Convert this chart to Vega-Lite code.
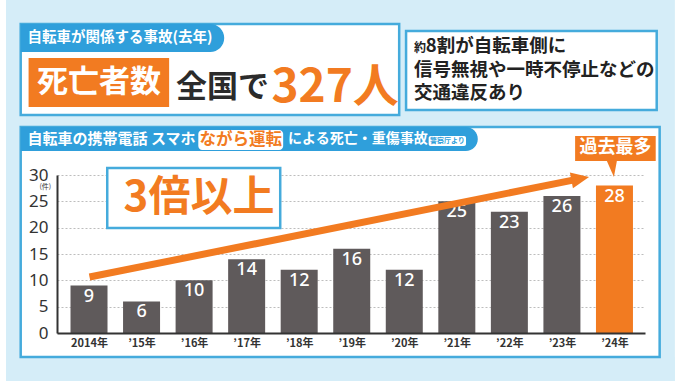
{
  "$schema": "https://vega.github.io/schema/vega-lite/v6.json",
  "width": 588,
  "height": 158,
  "autosize": {"type": "none"},
  "padding": {"left": 57, "top": 175, "right": 35, "bottom": 48},
  "background": "white",
  "resolve": {"axis": {"x": "independent", "y": "independent"}},
  "config": {
    "font": "Noto Sans CJK JP",
    "view": {"stroke": null},
    "axisY": {"labelOverlap": false, "domainColor": "#333333", "domainWidth": 2, "ticks": false,
              "labelFontSize": 17, "labelColor": "#333333", "labelPadding": 9, "labelFont": "Noto Sans",
              "grid": true, "gridColor": "#bdbdbd", "gridDash": [2, 2]},
    "axisX": {"labelOverlap": false, "domainColor": "#333333", "domainWidth": 2, "ticks": false, "grid": false,
              "labelFontSize": 11, "labelFontWeight": "bold", "labelColor": "#333333", "labelPadding": 4}
  },
  "datasets": {
    "accidents": [
      {"year": 2014, "count": 9},
      {"year": 2015, "count": 6},
      {"year": 2016, "count": 10},
      {"year": 2017, "count": 14},
      {"year": 2018, "count": 12},
      {"year": 2019, "count": 16},
      {"year": 2020, "count": 12},
      {"year": 2021, "count": 25},
      {"year": 2022, "count": 23},
      {"year": 2023, "count": 26},
      {"year": 2024, "count": 28}
    ]
  },
  "layer": [
    {
      "data": {"name": "accidents"},
      "mark": {"type": "bar", "width": 37},
      "encoding": {
        "x": {"field": "year", "type": "quantitative",
              "scale": {"domain": [2013.486, 2024.486], "nice": false, "zero": false},
              "axis": {"title": null, "values": [2014,2015,2016,2017,2018,2019,2020,2021,2022,2023,2024],
                       "labelExpr": "datum.value == 2014 ? '2014年' : '’' + slice(toString(datum.value), 2) + '年'",
                       "zindex": 1, "orient": "bottom"}},
        "y": {"field": "count", "type": "quantitative",
              "scale": {"domain": [0, 30], "nice": false},
              "axis": {"title": null, "values": [0,5,10,15,20,25,30], "zindex": 0, "orient": "left"}},
        "color": {"condition": {"test": "datum.year === 2024", "value": "#f27b21"}, "value": "#5f5a5b"}
      }
    },
    {
      "data": {"name": "accidents"},
      "mark": {"type": "text", "color": "white", "fontSize": 18, "fontWeight": 500, "baseline": "middle", "dy": 11, "font": "Noto Sans"},
      "encoding": {
        "x": {"field": "year", "type": "quantitative", "axis": null},
        "y": {"field": "count", "type": "quantitative", "axis": null},
        "text": {"field": "count", "type": "quantitative"}
      }
    },
    {
      "data": {"values": [{}]},
      "mark": {"type": "rect", "color": "#d5edf8"},
      "encoding": {"x": {"datum": 2012.42, "axis": null}, "x2": {"datum": 2025.15}, "y": {"datum": 39.11, "axis": null}, "y2": {"datum": 64}}
    },
    {
      "data": {"values": [{}]},
      "mark": {"type": "rect", "color": "#d5edf8"},
      "encoding": {"x": {"datum": 2012.42, "axis": null}, "x2": {"datum": 2012.70}, "y": {"datum": -9.2, "axis": null}, "y2": {"datum": 39.11}}
    },
    {
      "data": {"values": [{}]},
      "mark": {"type": "rect", "color": "#d5edf8"},
      "encoding": {"x": {"datum": 2024.86, "axis": null}, "x2": {"datum": 2025.15}, "y": {"datum": -9.2, "axis": null}, "y2": {"datum": 39.11}}
    },
    {
      "data": {"values": [{}]},
      "mark": {"type": "rect", "color": "#d5edf8"},
      "encoding": {"x": {"datum": 2012.42, "axis": null}, "x2": {"datum": 2025.15}, "y": {"datum": -9.2, "axis": null}, "y2": {"datum": -4.557}}
    },
    {
      "data": {"values": [{}]},
      "mark": {"type": "rect", "fill": "white", "fillOpacity": 0, "stroke": "#45abdc", "strokeWidth": 2.5},
      "encoding": {"x": {"datum": 2012.70, "axis": null}, "x2": {"datum": 2024.86}, "y": {"datum": -4.557, "axis": null}, "y2": {"datum": 39.11}}
    },
    {
      "data": {"values": [{}]},
      "mark": {"type": "rect", "fill": "#2f9fdb", "cornerRadiusTopRight": 12, "cornerRadiusBottomRight": 12},
      "encoding": {"x": {"datum": 2012.70, "axis": null}, "x2": {"datum": 2021.399}, "y": {"datum": 34.56, "axis": null}, "y2": {"datum": 39.11}}
    },
    {
      "data": {"values": [{}]},
      "mark": {"type": "text", "align": "left", "baseline": "middle", "color": "white", "fontSize": 15, "fontWeight": "bold"},
      "encoding": {"x": {"datum": 2012.831, "axis": null}, "y": {"datum": 36.84, "axis": null}, "text": {"value": "自転車の携帯電話 スマホ"}}
    },
    {
      "data": {"values": [{}]},
      "mark": {"type": "rect", "fill": "white", "cornerRadius": 4},
      "encoding": {"x": {"datum": 2016.08, "axis": null}, "x2": {"datum": 2017.695}, "y": {"datum": 34.75, "axis": null}, "y2": {"datum": 38.54}}
    },
    {
      "data": {"values": [{}]},
      "mark": {"type": "text", "align": "center", "baseline": "middle", "color": "#f27b21", "fontSize": 16.5, "fontWeight": "bold"},
      "encoding": {"x": {"datum": 2016.888, "axis": null}, "y": {"datum": 36.7, "axis": null}, "text": {"value": "ながら運転"}}
    },
    {
      "data": {"values": [{}]},
      "mark": {"type": "text", "align": "left", "baseline": "middle", "color": "white", "fontSize": 14, "fontWeight": "bold"},
      "encoding": {"x": {"datum": 2017.789, "axis": null}, "y": {"datum": 36.84, "axis": null}, "text": {"value": "による死亡・重傷事故"}}
    },
    {
      "data": {"values": [{}]},
      "mark": {"type": "rect", "fill": "white", "cornerRadius": 2},
      "encoding": {"x": {"datum": 2020.464, "axis": null}, "x2": {"datum": 2021.175}, "y": {"datum": 35.51, "axis": null}, "y2": {"datum": 37.4}}
    },
    {
      "data": {"values": [{}]},
      "mark": {"type": "text", "align": "center", "baseline": "middle", "color": "#2f9fdb", "fontSize": 7, "fontWeight": "bold"},
      "encoding": {"x": {"datum": 2020.819, "axis": null}, "y": {"datum": 36.45, "axis": null}, "text": {"value": "警察庁より"}}
    },
    {
      "data": {"values": [{}]},
      "mark": {"type": "rect", "fill": "white", "stroke": "#45abdc", "strokeWidth": 2.5},
      "encoding": {"x": {"datum": 2012.70, "axis": null}, "x2": {"datum": 2019.903}, "y": {"datum": 41.39, "axis": null}, "y2": {"datum": 58.67}}
    },
    {
      "data": {"values": [{}]},
      "mark": {"type": "rect", "fill": "#2f9fdb", "cornerRadiusTopRight": 14, "cornerRadiusBottomRight": 14},
      "encoding": {"x": {"datum": 2012.70, "axis": null}, "x2": {"datum": 2016.573}, "y": {"datum": 53.35, "axis": null}, "y2": {"datum": 58.67}}
    },
    {
      "data": {"values": [{}]},
      "mark": {"type": "text", "align": "left", "baseline": "middle", "color": "white", "fontSize": 14.5, "fontWeight": "bold"},
      "encoding": {"x": {"datum": 2012.831, "axis": null}, "y": {"datum": 56.01, "axis": null}, "text": {"value": "自転車が関係する事故(去年)"}}
    },
    {
      "data": {"values": [{}]},
      "mark": {"type": "rect", "fill": "#f27b21"},
      "encoding": {"x": {"datum": 2012.85, "axis": null}, "x2": {"datum": 2015.525}, "y": {"datum": 42.91, "axis": null}, "y2": {"datum": 52.22}}
    },
    {
      "data": {"values": [{}]},
      "mark": {"type": "text", "align": "center", "baseline": "middle", "color": "white", "fontSize": 31, "fontWeight": "bold"},
      "encoding": {"x": {"datum": 2014.188, "axis": null}, "y": {"datum": 47.47, "axis": null}, "text": {"value": "死亡者数"}}
    },
    {
      "data": {"values": [{}]},
      "mark": {"type": "text", "align": "left", "baseline": "middle", "color": "#2b2b2b", "fontSize": 31, "fontWeight": "bold"},
      "encoding": {"x": {"datum": 2015.656, "axis": null}, "y": {"datum": 46.61, "axis": null}, "text": {"value": "全国で"}}
    },
    {
      "data": {"values": [{}]},
      "mark": {"type": "text", "align": "left", "baseline": "middle", "color": "#f27b21", "fontSize": 46, "fontWeight": "bold"},
      "encoding": {"x": {"datum": 2017.471, "axis": null}, "y": {"datum": 46.61, "axis": null}, "text": {"value": "327人"}}
    },
    {
      "data": {"values": [{}]},
      "mark": {"type": "rect", "fill": "white", "stroke": "#45abdc", "strokeWidth": 2.5},
      "encoding": {"x": {"datum": 2020.034, "axis": null}, "x2": {"datum": 2024.804}, "y": {"datum": 42.34, "axis": null}, "y2": {"datum": 57.34}}
    },
    {
      "data": {"values": [{}]},
      "mark": {"type": "text", "align": "left", "baseline": "middle", "color": "#222222", "fontSize": 12, "fontWeight": "bold"},
      "encoding": {"x": {"datum": 2020.183, "axis": null}, "y": {"datum": 54.11, "axis": null}, "text": {"value": "約"}}
    },
    {
      "data": {"values": [{}]},
      "mark": {"type": "text", "align": "left", "baseline": "middle", "color": "#222222", "fontSize": 18.5, "fontWeight": "bold"},
      "encoding": {"x": {"datum": 2020.408, "axis": null}, "y": {"datum": 54.49, "axis": null}, "text": {"value": "8割が自転車側に"}}
    },
    {
      "data": {"values": [{}]},
      "mark": {"type": "text", "align": "left", "baseline": "middle", "color": "#222222", "fontSize": 18.5, "fontWeight": "bold"},
      "encoding": {"x": {"datum": 2020.183, "axis": null}, "y": {"datum": 50.0, "axis": null}, "text": {"value": "信号無視や一時不停止などの"}}
    },
    {
      "data": {"values": [{}]},
      "mark": {"type": "text", "align": "left", "baseline": "middle", "color": "#222222", "fontSize": 18.5, "fontWeight": "bold"},
      "encoding": {"x": {"datum": 2020.183, "axis": null}, "y": {"datum": 45.6, "axis": null}, "text": {"value": "交通違反あり"}}
    },
    {
      "data": {"values": [{}]},
      "mark": {"type": "text", "align": "center", "baseline": "middle", "color": "#333333", "fontSize": 7},
      "encoding": {"x": {"datum": 2013.168, "axis": null}, "y": {"datum": 27.63, "axis": null}, "text": {"value": "(件)"}}
    },
    {
      "data": {"values": [{}]},
      "mark": {"type": "rect", "fill": "white", "stroke": "#45abdc", "strokeWidth": 2.5},
      "encoding": {"x": {"datum": 2014.347, "axis": null}, "x2": {"datum": 2017.639}, "y": {"datum": 19.94, "axis": null}, "y2": {"datum": 31.33}}
    },
    {
      "data": {"values": [{}]},
      "mark": {"type": "text", "align": "center", "baseline": "middle", "color": "#f27b21", "fontSize": 42, "fontWeight": "bold"},
      "encoding": {"x": {"datum": 2016.093, "axis": null}, "y": {"datum": 25.63, "axis": null}, "text": {"value": "3倍以上"}}
    },
    {
      "data": {"values": [{}]},
      "mark": {"type": "rule", "color": "#f27b21", "strokeWidth": 7, "strokeCap": "butt"},
      "encoding": {"x": {"datum": 2014.01, "axis": null}, "y": {"datum": 10.63, "axis": null}, "x2": {"datum": 2023.33}, "y2": {"datum": 29.26}}
    },
    {
      "data": {"values": [{}]},
      "mark": {"type": "point", "shape": "M -0.8 -0.8 L 1 0 L -0.8 0.8 Z", "size": 400, "angle": 348.9, "filled": true, "opacity": 1, "color": "#f27b21"},
      "encoding": {"x": {"datum": 2023.33, "axis": null}, "y": {"datum": 29.26, "axis": null}}
    },
    {
      "data": {"values": [{}]},
      "mark": {"type": "rect", "fill": "#f27b21"},
      "encoding": {"x": {"datum": 2023.251, "axis": null}, "x2": {"datum": 2024.785}, "y": {"datum": 32.66, "axis": null}, "y2": {"datum": 37.4}}
    },
    {
      "data": {"values": [{}]},
      "mark": {"type": "point", "shape": "M -0.66 -1.2 L 0.7 -1.2 L 0.3 1 Z", "size": 256, "filled": true, "opacity": 1, "color": "#f27b21"},
      "encoding": {"x": {"datum": 2023.944, "axis": null}, "y": {"datum": 31.14, "axis": null}}
    },
    {
      "data": {"values": [{}]},
      "mark": {"type": "text", "align": "center", "baseline": "middle", "color": "white", "fontSize": 18, "fontWeight": "bold"},
      "encoding": {"x": {"datum": 2024.018, "axis": null}, "y": {"datum": 35.13, "axis": null}, "text": {"value": "過去最多"}}
    }
  ]
}
